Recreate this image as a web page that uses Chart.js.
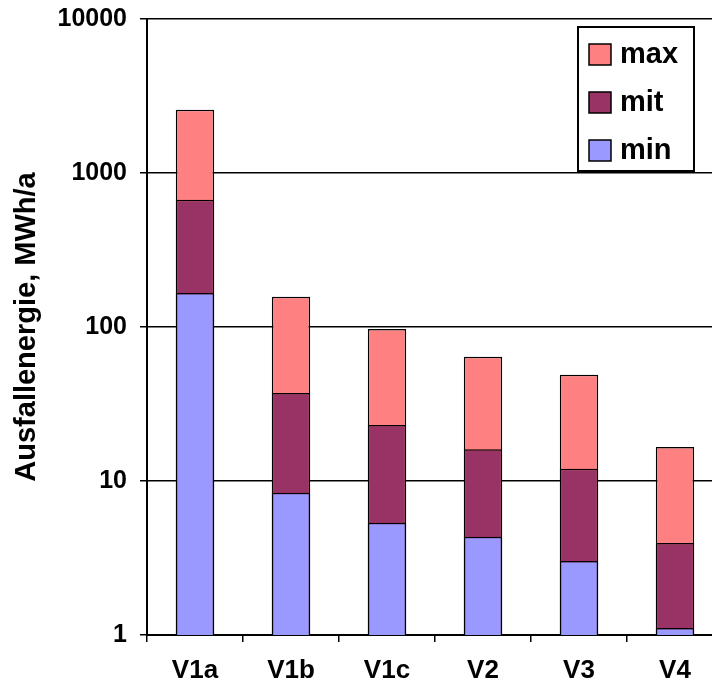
<!DOCTYPE html>
<html>
<head>
  <title>Ausfallenergie</title>
  <script src="https://cdn.jsdelivr.net/npm/chart.js"></script>
  <style>
    html, body {
      margin: 0;
      padding: 0;
      overflow: hidden;
      background: #fff;
    }

    #wrap {
      position: relative;
      width: 723px;
      height: 684px;
    }
  </style>
</head>
<body>
  <div id="wrap"><canvas id="energyChart"></canvas></div>

  <script>
    // values (log scale)
    const categories = ["V1a", "V1b", "V1c", "V2", "V3", "V4"];
    const maxValues = [2570, 157, 97, 64, 49, 16.6];
    const mitValues = [670, 37.3, 23.1, 16.1, 12, 3.96];
    const minValues = [166, 8.4, 5.35, 4.35, 3.02, 1.11];
    const yTicks = [1, 10, 100, 1000, 10000];

    const FONT = "Arial, 'Liberation Sans', sans-serif";

    // legend box drawn inside the plot, top right
    const boxLegend = {
      id: "boxLegend",
      afterDraw(chart) {
        const ctx = chart.ctx;
        const area = chart.chartArea;
        const x = area.right - 145;
        const y = area.top + 8;
        const w = 116, h = 144;
        ctx.save();
        ctx.fillStyle = "#fff";
        ctx.fillRect(x, y, w, h);
        ctx.strokeStyle = "#000";
        ctx.lineWidth = 2;
        ctx.strokeRect(x, y, w, h);
        ctx.font = "bold 29px " + FONT;
        ctx.textBaseline = "middle";
        chart.data.datasets.forEach((ds, i) => {
          const cy = y + 27 + i * 48;
          ctx.fillStyle = ds.backgroundColor;
          ctx.fillRect(x + 11, cy - 10, 22, 21);
          ctx.lineWidth = 1.5;
          ctx.strokeRect(x + 11, cy - 10, 22, 21);
          ctx.fillStyle = "#000";
          ctx.fillText(ds.label, x + 42, cy + 1);
        });
        ctx.restore();
      }
    };

    new Chart(document.getElementById("energyChart"), {
      type: "bar",
      data: {
        labels: categories,
        datasets: [
          { label: "max", data: maxValues, backgroundColor: "#FF8080", order: 3 },
          { label: "mit", data: mitValues, backgroundColor: "#993366", order: 2 },
          { label: "min", data: minValues, backgroundColor: "#9999FF", order: 1 }
        ]
      },
      options: {
        responsive: true,
        maintainAspectRatio: false,
        animation: false,
        layout: { padding: { top: 19, right: 0, bottom: 0, left: 0 } },
        datasets: {
          bar: {
            borderColor: "#000",
            borderWidth: 1.5,
            barPercentage: 0.4,
            categoryPercentage: 1
          }
        },
        plugins: {
          legend: { display: false },
          tooltip: { enabled: false }
        },
        scales: {
          x: {
            stacked: true,
            grid: {
              drawOnChartArea: false,
              tickLength: 7,
              color: "#000",
              lineWidth: 1.5
            },
            border: { color: "#000", width: 2 },
            ticks: {
              color: "#000",
              font: { family: FONT, size: 26, weight: "bold" },
              padding: 13
            },
            afterFit(scale) { scale.height = 49; }
          },
          y: {
            type: "logarithmic",
            stacked: false,
            min: 1,
            max: 10000,
            afterBuildTicks(scale) {
              scale.ticks = yTicks.map(v => ({ value: v }));
            },
            grid: {
              color: "#000",
              lineWidth: 1.5,
              tickLength: 7
            },
            border: { color: "#000", width: 2 },
            ticks: {
              color: "#000",
              font: { family: FONT, size: 25, weight: "bold" },
              padding: 13,
              callback: v => String(v)
            },
            title: {
              display: true,
              text: "Ausfallenergie, MWh/a",
              color: "#000",
              font: { family: FONT, size: 29, weight: "bold" },
              padding: { top: 10, bottom: 0 }
            },
            afterFit(scale) {
              scale.width = 147;
              scale.paddingTop = 5;
              scale.paddingBottom = 5;
            }
          }
        }
      },
      plugins: [boxLegend]
    });
  </script>
</body>
</html>
